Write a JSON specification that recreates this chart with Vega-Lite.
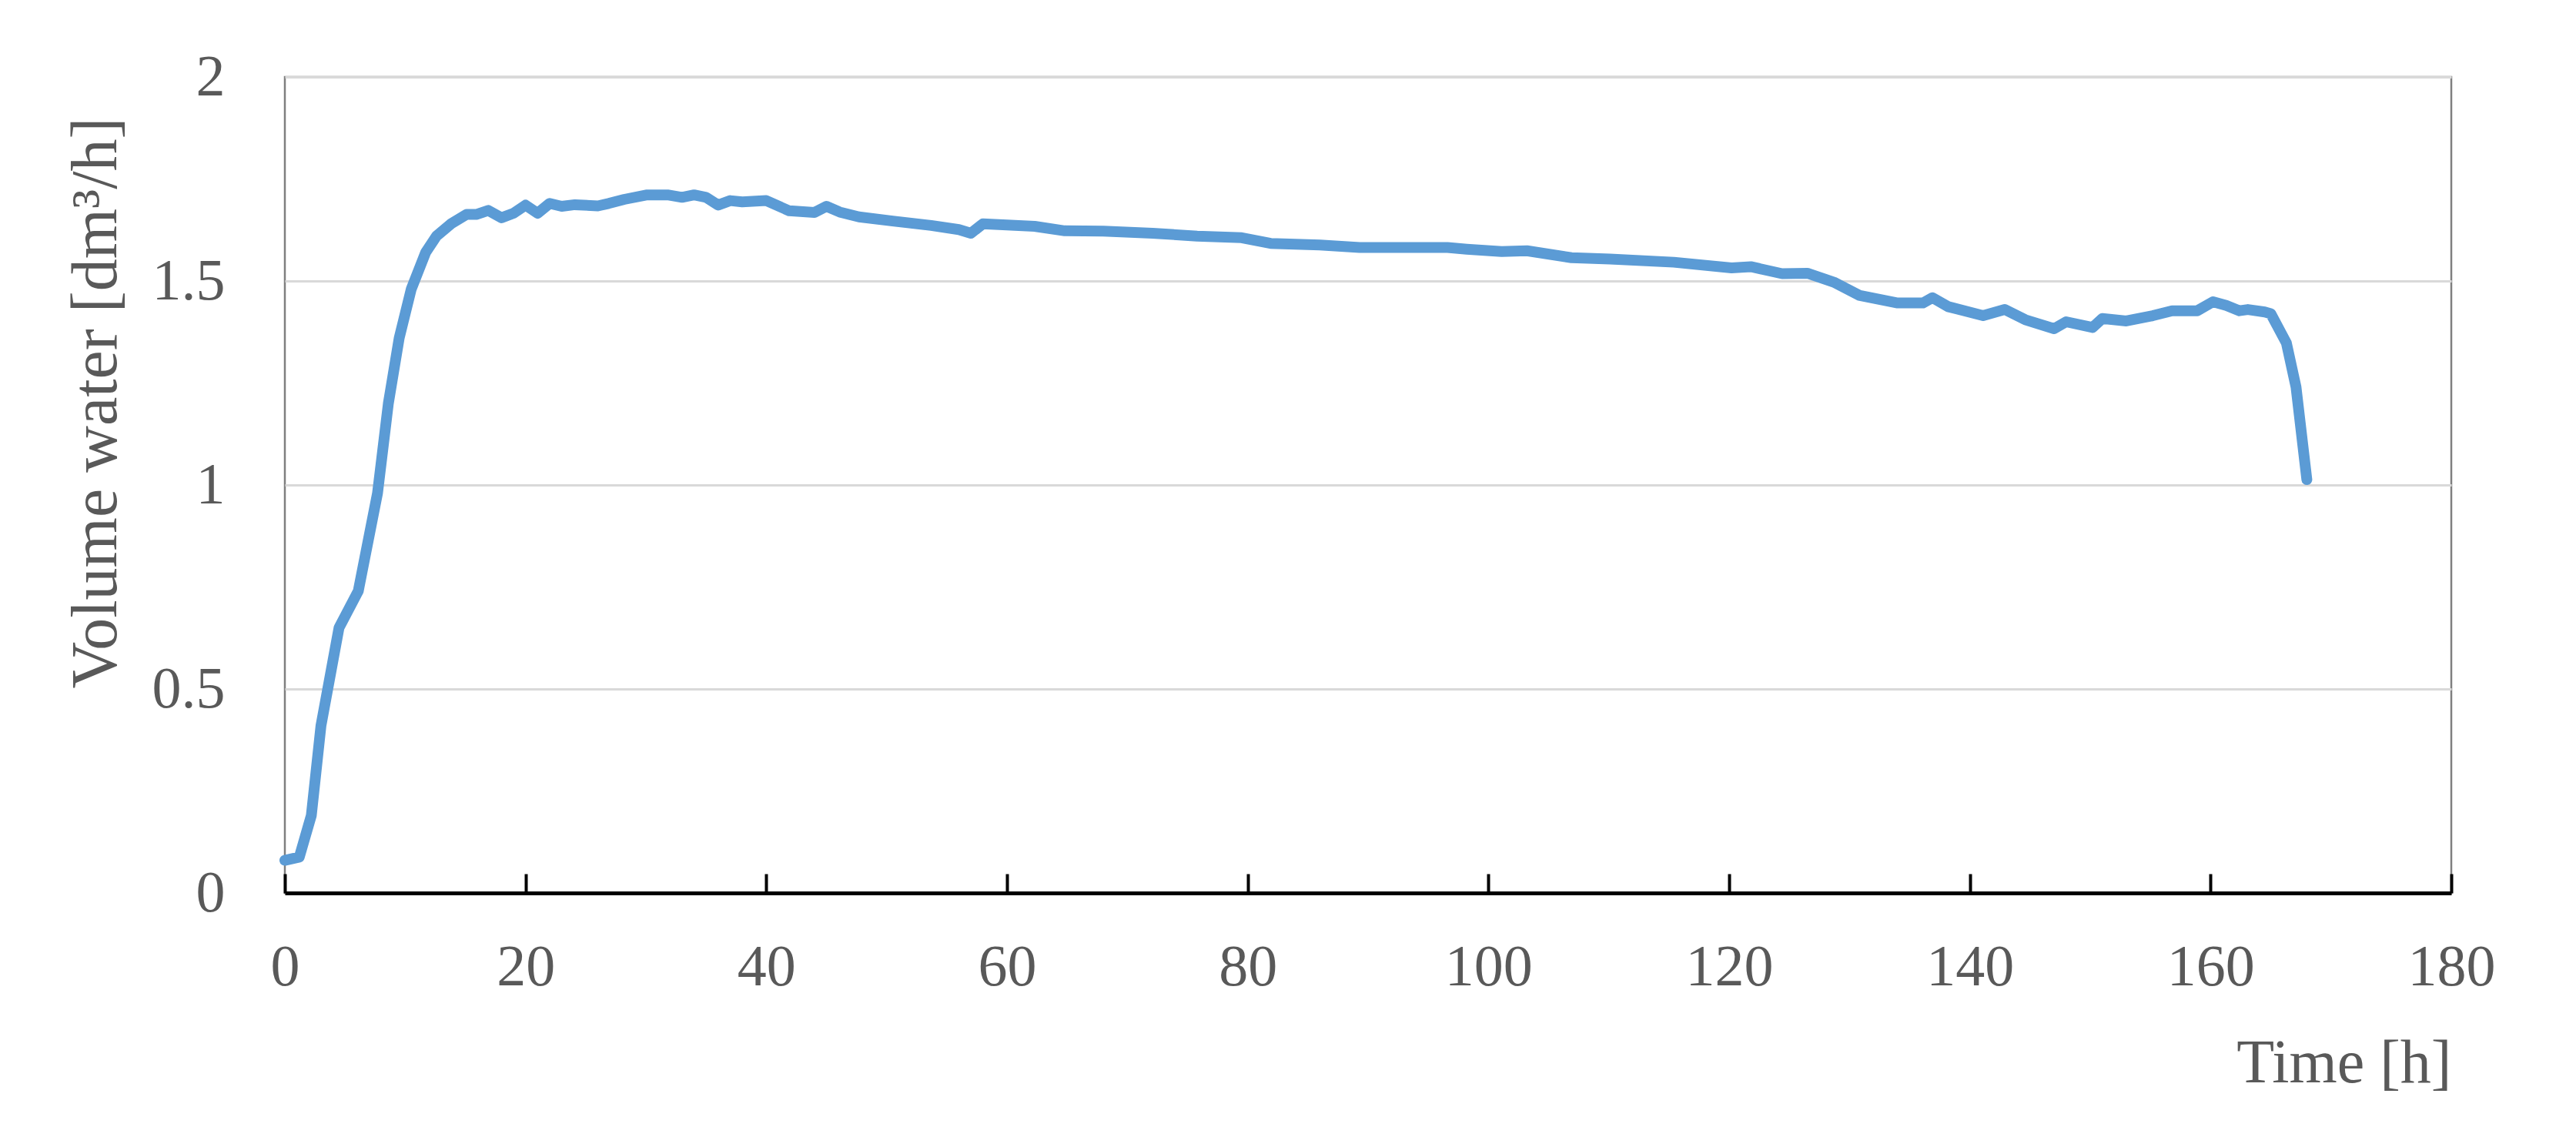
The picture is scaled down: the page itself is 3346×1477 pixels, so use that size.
{
  "$schema": "https://vega.github.io/schema/vega-lite/v6.json",
  "autosize": "none",
  "width": 2814,
  "height": 1060,
  "padding": {"left": 370, "top": 100, "right": 162, "bottom": 317},
  "background": "white",
  "config": {
    "view": {"stroke": "#7f7f7f", "strokeWidth": 2.5},
    "font": "Liberation Serif"
  },
  "data": {
    "values": [
      {"t": 0, "v": 0.08}, {"t": 1.2, "v": 0.088}, {"t": 2.2, "v": 0.19}, {"t": 3, "v": 0.41},
      {"t": 4.5, "v": 0.65}, {"t": 6.1, "v": 0.74}, {"t": 7.7, "v": 0.98}, {"t": 8.6, "v": 1.2},
      {"t": 9.5, "v": 1.36}, {"t": 10.5, "v": 1.48}, {"t": 11.7, "v": 1.57}, {"t": 12.6, "v": 1.61},
      {"t": 13.8, "v": 1.64}, {"t": 15.1, "v": 1.663}, {"t": 15.9, "v": 1.663}, {"t": 16.9, "v": 1.673},
      {"t": 18, "v": 1.655}, {"t": 19, "v": 1.666}, {"t": 20, "v": 1.686}, {"t": 21, "v": 1.666},
      {"t": 22, "v": 1.69}, {"t": 23, "v": 1.683}, {"t": 24.1, "v": 1.687}, {"t": 26, "v": 1.684},
      {"t": 26.9, "v": 1.69}, {"t": 28.2, "v": 1.7}, {"t": 30.1, "v": 1.711}, {"t": 31.8, "v": 1.711},
      {"t": 33, "v": 1.705}, {"t": 34, "v": 1.711}, {"t": 35, "v": 1.705}, {"t": 36, "v": 1.686},
      {"t": 37, "v": 1.697}, {"t": 38, "v": 1.694}, {"t": 40, "v": 1.697}, {"t": 41.9, "v": 1.672},
      {"t": 44, "v": 1.668}, {"t": 45, "v": 1.683}, {"t": 46.1, "v": 1.669}, {"t": 47.7, "v": 1.657},
      {"t": 50.5, "v": 1.647}, {"t": 53.7, "v": 1.636}, {"t": 56, "v": 1.626}, {"t": 57, "v": 1.617},
      {"t": 58, "v": 1.64}, {"t": 62.3, "v": 1.634}, {"t": 64.8, "v": 1.623}, {"t": 68, "v": 1.622},
      {"t": 72.1, "v": 1.617}, {"t": 75.8, "v": 1.61}, {"t": 79.5, "v": 1.606}, {"t": 81.9, "v": 1.592},
      {"t": 86, "v": 1.588}, {"t": 89.3, "v": 1.582}, {"t": 96.6, "v": 1.582}, {"t": 98.2, "v": 1.578},
      {"t": 101.1, "v": 1.572}, {"t": 103.2, "v": 1.574}, {"t": 106.9, "v": 1.557}, {"t": 110.1, "v": 1.554},
      {"t": 115.4, "v": 1.546}, {"t": 120.2, "v": 1.532}, {"t": 121.8, "v": 1.535}, {"t": 124.4, "v": 1.518},
      {"t": 126.5, "v": 1.519}, {"t": 128.7, "v": 1.497}, {"t": 130.8, "v": 1.465}, {"t": 134, "v": 1.446},
      {"t": 136.1, "v": 1.446}, {"t": 136.9, "v": 1.459}, {"t": 138.2, "v": 1.437}, {"t": 141.1, "v": 1.415},
      {"t": 142.9, "v": 1.43}, {"t": 144.6, "v": 1.405}, {"t": 147, "v": 1.383}, {"t": 148, "v": 1.4},
      {"t": 150.2, "v": 1.386}, {"t": 151, "v": 1.408}, {"t": 153, "v": 1.402}, {"t": 155.2, "v": 1.415},
      {"t": 156.8, "v": 1.427}, {"t": 158.9, "v": 1.427}, {"t": 160.2, "v": 1.449}, {"t": 161.3, "v": 1.44},
      {"t": 162.4, "v": 1.427}, {"t": 163.1, "v": 1.43}, {"t": 164.5, "v": 1.424}, {"t": 165, "v": 1.42},
      {"t": 166.3, "v": 1.348}, {"t": 167.1, "v": 1.24}, {"t": 168, "v": 1.013}
    ]
  },
  "mark": {"type": "line", "color": "#5B9BD5", "strokeWidth": 14, "strokeCap": "round", "strokeJoin": "round", "interpolate": "linear"},
  "encoding": {
    "x": {
      "field": "t", "type": "quantitative",
      "scale": {"domain": [0, 180], "nice": false, "zero": false},
      "axis": {
        "values": [0, 20, 40, 60, 80, 100, 120, 140, 160, 180],
        "grid": false,
        "domainColor": "#000000", "domainWidth": 5,
        "ticks": true, "tickColor": "#000000", "tickWidth": 4, "tickSize": -25,
        "labelFont": "Liberation Serif", "labelFontSize": 76, "labelColor": "#595959", "labelPadding": 84,
        "labelFlush": false,
        "title": "Time [h]", "titleFont": "Liberation Serif", "titleFontSize": 80, "titleFontWeight": "normal",
        "titleColor": "#595959", "titleAnchor": "end", "titleAlign": "right", "titleBaseline": "alphabetic",
        "titleX": 2814, "titleY": 245
      }
    },
    "y": {
      "field": "v", "type": "quantitative",
      "scale": {"domain": [0, 2], "nice": false},
      "axis": {
        "values": [0, 0.5, 1, 1.5, 2],
        "format": ".1~f",
        "grid": true, "gridColor": "#d9d9d9", "gridWidth": 3,
        "domain": false, "ticks": false,
        "labelFont": "Liberation Serif", "labelFontSize": 76, "labelColor": "#595959", "labelPadding": 78,
        "labelFlush": false,
        "title": "Volume water [dm³/h]", "titleFont": "Liberation Serif", "titleFontSize": 84, "titleFontWeight": "normal",
        "titleColor": "#595959", "titleAngle": -90, "titleAlign": "center", "titleBaseline": "middle",
        "titleX": -245, "titleY": 423
      }
    }
  }
}
